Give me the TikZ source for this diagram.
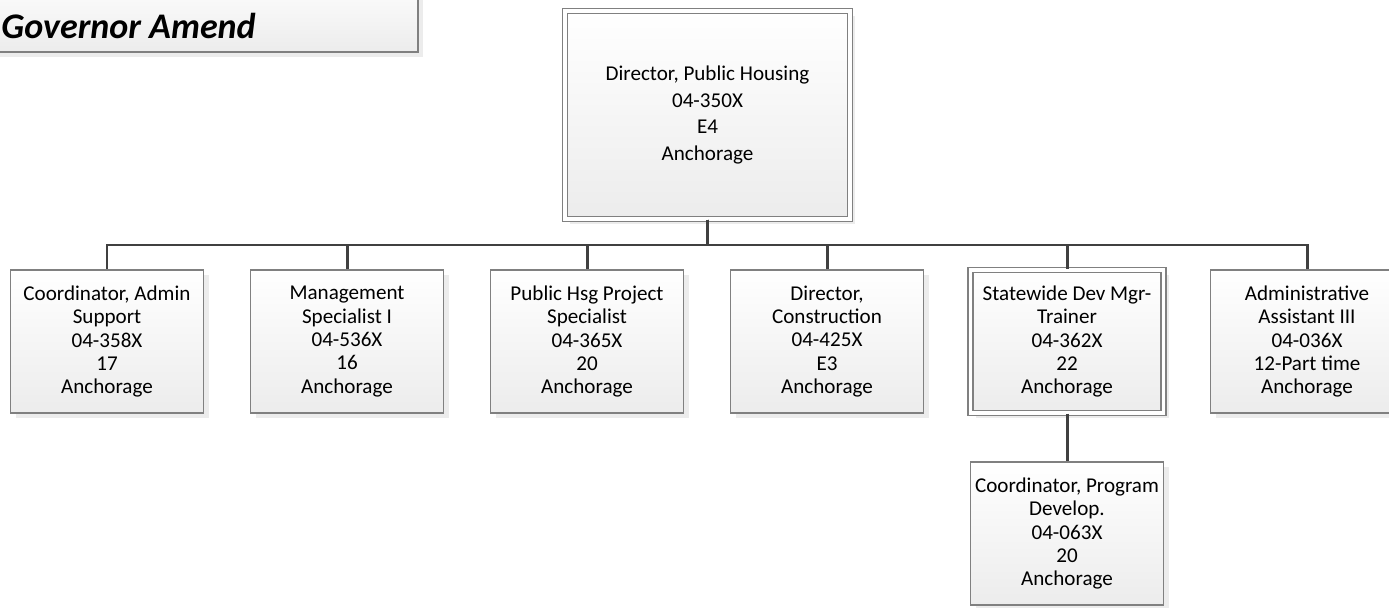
\documentclass[tikz,border=0pt]{standalone}
\usepackage{fontspec}
\setmainfont{Carlito}
\usepackage{tikz}
\usetikzlibrary{shadows}
\definecolor{L}{RGB}{128, 128, 128}
\definecolor{K}{RGB}{64, 64, 64}
\definecolor{F}{RGB}{236, 236, 236}

\tikzset{
  puesto/.style={draw=L, line width=0.9pt, top color=white, bottom color=F,
    minimum width=3.86cm, minimum height=2.86cm, inner sep=1pt, align=center,
    font=\fontsize{12}{13.3}\selectfont,
    drop shadow={shadow xshift=0.1cm, shadow yshift=-0.1cm, fill=gray!15, opacity=1}},
  jefe/.style={puesto, double=white, double distance=2.2pt, line width=0.7pt},
  linea/.style={draw=K, line width=1.7pt}
}

\begin{document}
\begin{tikzpicture}
    \clip (0,0) rectangle (27.78,-12.16);

    %Recuadro del titulo
    \fill[gray!15] (-0.2,0.5) rectangle (8.46,-1.14);
    \shade[top color=white, bottom color=F, draw=L, line width=0.9pt] (-0.2,0.5) rectangle (8.36,-1.04);
    \node[anchor=base west, inner sep=0pt, font=\fontsize{20.5}{24}\selectfont\bfseries\itshape] (titulo) at (0.02,-0.78) {Governor Amend};

    %Director
    \node[jefe, minimum width=5.7cm, minimum height=4.16cm, font=\fontsize{12}{15}\selectfont] (dir) at (14.15,-2.3)
      {Director, Public Housing\\04-350X\\E4\\Anchorage};

    %Fila de puestos
    \node[puesto] (admin) at (2.14,-6.83) {Coordinator, Admin\\Support\\04-358X\\17\\Anchorage};
    \node[puesto] (mgmt) at (6.94,-6.83) {Management\\Specialist I\\04-536X\\16\\Anchorage};
    \node[puesto] (hsg) at (11.74,-6.83) {Public Hsg Project\\Specialist\\04-365X\\20\\Anchorage};
    \node[puesto] (constr) at (16.54,-6.83) {Director,\\Construction\\04-425X\\E3\\Anchorage};
    \node[jefe] (trainer) at (21.34,-6.83) {Statewide Dev Mgr-\\Trainer\\04-362X\\22\\Anchorage};
    \node[puesto] (asist) at (26.14,-6.83) {Administrative\\Assistant III\\04-036X\\12-Part time\\Anchorage};

    %Debajo del entrenador
    \node[puesto] (prog) at (21.34,-10.67) {Coordinator, Program\\Develop.\\04-063X\\20\\Anchorage};

    %Conectores
    \coordinate (bus) at (0,-4.9);
    \foreach \p in {admin,mgmt,hsg,constr,trainer,asist}
      \draw[linea] (dir.south) -- (dir.south |- bus) -| (\p.north);
    \draw[linea] (trainer.south) -- (prog.north);
\end{tikzpicture}
\end{document}
